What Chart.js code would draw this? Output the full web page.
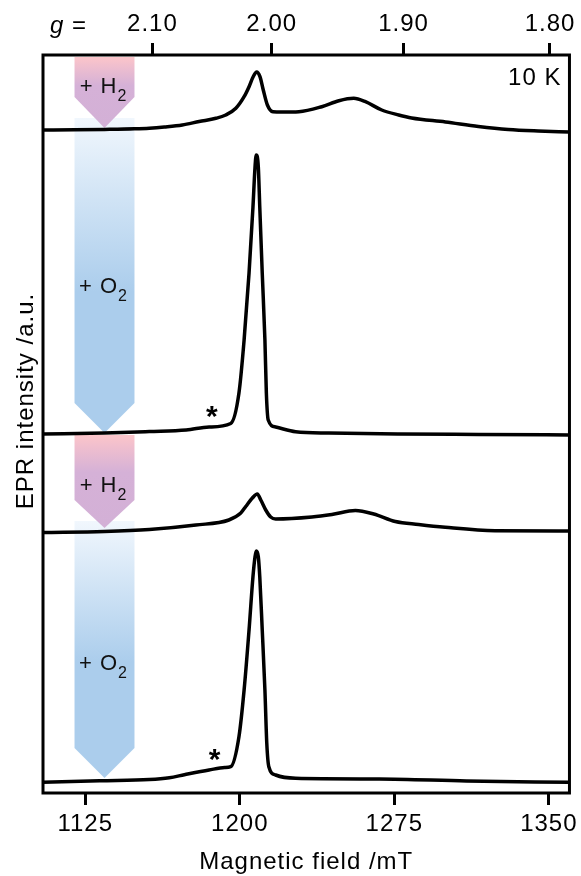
<!DOCTYPE html>
<html>
<head>
<meta charset="utf-8">
<script src="https://cdn.jsdelivr.net/npm/chart.js@4/dist/chart.umd.min.js"></script>
<style>
html,body{margin:0;padding:0;background:#fff;}
#c{display:block;}
</style>
</head>
<body>
<canvas id="c" width="581" height="876"></canvas>
<script>
// ---------------- data ----------------
const fieldMin = 1104.5;
const fieldMax = 1360;
const fieldTicks = [1125, 1200, 1275, 1350];
const gTicks = [2.10, 2.00, 1.90, 1.80];
const gTickLabels = ['2.10', '2.00', '1.90', '1.80'];
const gTimesField = 2431; // g * B (mT) at the spectrometer frequency

// trace 1: + H2 (top)
const h2aField = [1104.5, 1119.8, 1134.3, 1148.9, 1156.1, 1163.4, 1172.1, 1180.3, 1188.4, 1193.2, 1198.1, 1202.1, 1204.5, 1206.5, 1208.2, 1209.8, 1211.4, 1213.4, 1216.1, 1220.5, 1228.7, 1239.8, 1248.1, 1255.3, 1261.0, 1268.9, 1277.1, 1283.4, 1299.8, 1315.8, 1330.3, 1344.8, 1360];
const h2aSignal = [663, 663.2, 663.6, 664.2, 664.8, 666, 668, 671.5, 674.7, 678, 684.7, 696.3, 706.3, 716.3, 721, 716.3, 703, 688, 681.3, 681, 681.3, 686.3, 692.3, 694.7, 691.3, 683, 678, 675, 671, 666.5, 663.5, 662, 661];

// trace 2: + O2
const o2aField = [1104.5, 1134.3, 1156.1, 1174.0, 1185.1, 1195.6, 1199.6, 1202.1, 1204.5, 1206.4, 1207.4, 1208.0, 1209.0, 1209.7, 1210.9, 1212.2, 1212.9, 1213.8, 1217.4, 1227.1, 1243.2, 1277.1, 1315.8, 1360];
const o2aSignal = [359, 360, 361.5, 363, 366, 369.5, 400, 453, 520, 586, 626, 638, 626, 586, 520, 453, 400, 373, 366, 361.3, 360, 359, 358.5, 358];

// trace 3: + H2
const h2bField = [1104.5, 1134.3, 1156.1, 1178.7, 1194.7, 1200.5, 1202.9, 1206.1, 1208.5, 1210.2, 1212.6, 1215.0, 1217.4, 1235.0, 1244.7, 1256.1, 1265.0, 1275.5, 1286.8, 1299.7, 1323.9, 1360];
const h2bSignal = [260.5, 261.5, 263.5, 268, 273, 280, 286.5, 295, 299, 293, 283, 276, 274, 276, 278.5, 282.5, 279, 271.5, 268.5, 265.7, 262.3, 262];

// trace 4: + O2 (bottom)
const o2bField = [1104.5, 1132.0, 1156.1, 1165.8, 1173.1, 1185.1, 1192.7, 1195.6, 1199.6, 1202.1, 1204.5, 1206.4, 1207.4, 1208.0, 1209.0, 1209.7, 1210.9, 1212.2, 1213.1, 1214.1, 1217.4, 1227.1, 1267.6, 1310, 1360];
const o2bSignal = [10.7, 12.3, 13.5, 15.3, 18.3, 23, 25.5, 26.3, 56.3, 103, 163, 216.3, 236.3, 242, 236.3, 216.3, 163, 103, 50, 26.3, 18, 14.7, 14, 12, 10.7];

const yMin = 0, yMax = 738;

// annotations (data coordinates)
const arrowNotes = [
  {gas: 'O', left: 1119.8, right: 1148.9, top: 675, shoulder: 390, tip: 360, labelY: 499.7},
  {gas: 'O', left: 1119.8, right: 1148.9, top: 272, shoulder: 45, tip: 15, labelY: 123},
  {gas: 'H', left: 1119.8, right: 1148.9, top: 736, shoulder: 696, tip: 665, labelY: 699.7},
  {gas: 'H', left: 1119.8, right: 1148.9, top: 358, shoulder: 293, tip: 265, labelY: 301.3}
];
const starNotes = [{x: 1186.7, y: 381.3}, {x: 1188.0, y: 38}];

// ---------------- chart ----------------
const FONT = "'Liberation Sans', Arial, Helvetica, sans-serif";
Chart.defaults.font.family = FONT;
Chart.defaults.color = '#000';

function pts(xs, ys) { return xs.map((x, i) => ({x: x, y: ys[i]})); }
function ds(xs, ys) {
  return {
    data: pts(xs, ys), borderColor: '#000', borderWidth: 3.5, pointRadius: 0,
    cubicInterpolationMode: 'monotone', fill: false, borderJoinStyle: 'round', borderCapStyle: 'round'
  };
}

const decor = {
  id: 'decor',
  beforeDraw(chart) { chart.ctx.letterSpacing = '1px'; },
  beforeDatasetsDraw(chart) {
    const {ctx, scales: {x, y}} = chart;
    arrowNotes.forEach(a => {
      const l = x.getPixelForValue(a.left), r = x.getPixelForValue(a.right);
      const t = y.getPixelForValue(a.top), s = y.getPixelForValue(a.shoulder), p = y.getPixelForValue(a.tip);
      const g = ctx.createLinearGradient(0, t, 0, p);
      if (a.gas === 'H') {
        g.addColorStop(0, '#fcc5ca'); g.addColorStop(0.4, '#d5b1d7'); g.addColorStop(1, '#d3b0d6');
      } else {
        g.addColorStop(0, '#f1f7fd'); g.addColorStop(0.55, '#abcdec'); g.addColorStop(1, '#abcdec');
      }
      ctx.save();
      ctx.fillStyle = g;
      ctx.beginPath();
      ctx.moveTo(l, t); ctx.lineTo(r, t); ctx.lineTo(r, s); ctx.lineTo((l + r) / 2, p); ctx.lineTo(l, s);
      ctx.closePath(); ctx.fill();
      // label "+ H2" / "+ O2"
      const main = '+ ' + a.gas, sub = '2';
      ctx.font = '22px ' + FONT;
      const wm = ctx.measureText(main).width;
      ctx.font = '16px ' + FONT;
      const ws = ctx.measureText(sub).width;
      const cx = (l + r) / 2 - 1;
      const x0 = cx - (wm + ws) / 2;
      const by = y.getPixelForValue(a.labelY);
      ctx.fillStyle = '#111';
      ctx.textBaseline = 'alphabetic'; ctx.textAlign = 'left';
      ctx.font = '22px ' + FONT;
      ctx.fillText(main, x0, by);
      ctx.font = '16px ' + FONT;
      ctx.fillText(sub, x0 + wm, by + 8);
      ctx.restore();
    });
  },
  afterDatasetsDraw(chart) {
    const {ctx, chartArea: ca, scales: {x, y}} = chart;
    ctx.save();
    // frame
    ctx.strokeStyle = '#000'; ctx.lineWidth = 3;
    ctx.strokeRect(ca.left, ca.top, ca.right - ca.left, ca.bottom - ca.top);
    // asterisks
    ctx.fillStyle = '#000';
    ctx.font = 'bold 30px ' + FONT;
    ctx.textAlign = 'center'; ctx.textBaseline = 'alphabetic';
    starNotes.forEach(s => {
      const m = ctx.measureText('*');
      const px = x.getPixelForValue(s.x), py = y.getPixelForValue(s.y);
      ctx.fillText('*', px, py + (m.actualBoundingBoxAscent - m.actualBoundingBoxDescent) / 2);
    });
    // temperature label
    ctx.font = '24px ' + FONT;
    ctx.textAlign = 'right';
    ctx.fillText('10 K', ca.right - 8, ca.top + 30);
    // "g =" label
    ctx.textAlign = 'left';
    ctx.font = 'italic 24px ' + FONT;
    ctx.fillText('g', 50, 33);
    const wg = ctx.measureText('g').width;
    ctx.font = '24px ' + FONT;
    ctx.fillText(' =', 50 + wg, 33);
    // y title
    ctx.translate(32.5, 401);
    ctx.rotate(-Math.PI / 2);
    ctx.textAlign = 'center';
    ctx.fillText('EPR intensity /a.u.', 0, 0);
    ctx.restore();
  }
};

new Chart(document.getElementById('c'), {
  type: 'line',
  data: {
    datasets: [ds(h2aField, h2aSignal), ds(o2aField, o2aSignal), ds(h2bField, h2bSignal), ds(o2bField, o2bSignal)]
  },
  options: {
    responsive: false,
    animation: false,
    devicePixelRatio: 1,
    layout: {padding: {left: 43, right: 10, top: 0, bottom: 0}},
    plugins: {legend: {display: false}, tooltip: {enabled: false}},
    scales: {
      x: {
        type: 'linear', position: 'bottom', min: fieldMin, max: fieldMax,
        afterBuildTicks: s => { s.ticks = fieldTicks.map(v => ({value: v})); },
        afterFit: s => { s.height = 83; },
        ticks: {font: {size: 24}, color: '#000', padding: 5, maxRotation: 0, autoSkip: false, callback: v => String(v)},
        grid: {display: true, drawOnChartArea: false, drawTicks: true, tickLength: 12, tickWidth: 3, tickColor: '#000'},
        border: {display: false},
        title: {display: true, text: 'Magnetic field /mT', font: {size: 24}, color: '#000', padding: {top: 0, bottom: -1}}
      },
      gTop: {
        type: 'linear', position: 'top', min: fieldMin, max: fieldMax,
        afterBuildTicks: s => { s.ticks = gTicks.map(g => ({value: gTimesField / g})); },
        afterFit: s => { s.height = 55; },
        ticks: {font: {size: 24}, color: '#000', padding: 4, maxRotation: 0, autoSkip: false, callback: (v, i) => gTickLabels[i]},
        grid: {display: true, drawOnChartArea: false, drawTicks: true, tickLength: 12, tickWidth: 3, tickColor: '#000'},
        border: {display: false}
      },
      y: {display: false, min: yMin, max: yMax}
    }
  },
  plugins: [decor]
});
</script>
</body>
</html>
